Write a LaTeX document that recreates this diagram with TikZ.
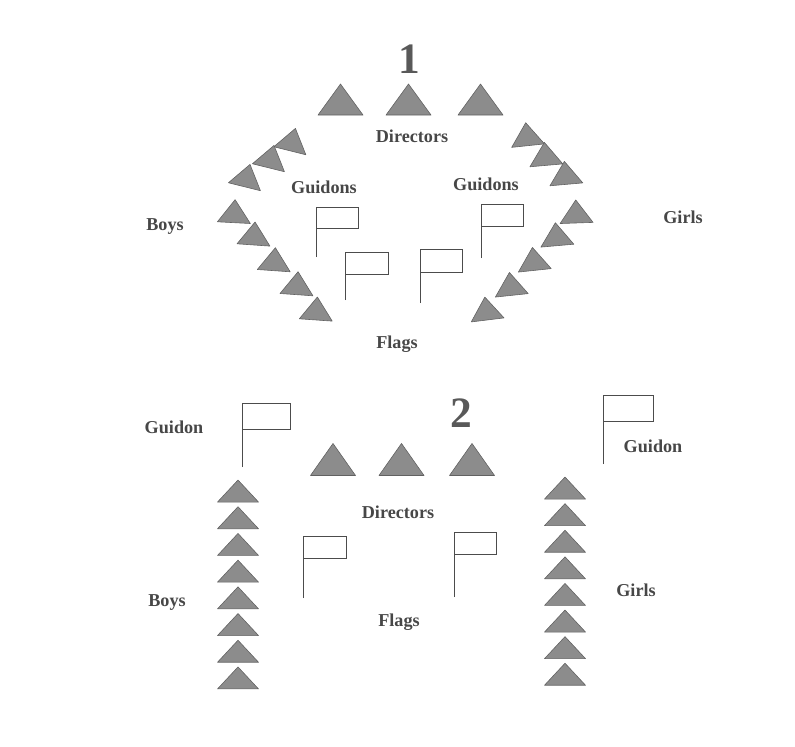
\documentclass[tikz,border=0pt]{standalone}
\usepackage{fontspec}
\setmainfont{Liberation Serif}

% one pennant: centre x, centre y, turn, base width, height
\newcommand{\pennant}[5]{%
  \filldraw[pennant, shift={({#1},{#2})}, rotate=#3]
    (0,{-2*#5/3}) -- ({#4/2},{#5/3}) -- ({-#4/2},{#5/3}) -- cycle;}
% one flag: pole x, pole top, pole foot, flag width, flag height
\newcommand{\flagpole}[5]{%
  \draw[flagline] (#1,#3) -- (#1,#2) -- ({#1+#4},#2) -- ({#1+#4},{#2+#5}) -- (#1,{#2+#5});}

\begin{document}
\begin{tikzpicture}[x=0.03cm, y=-0.03cm,
    pennant/.style={fill=black!45, draw=black!62, line width=0.5pt, line join=round},
    flagline/.style={black!70, line width=0.7pt},
    lbl/.style={text=black!72, font=\fontsize{15.5}{18}\selectfont\bfseries, anchor=base},
    numeral/.style={text=black!65, font=\fontsize{37}{40}\selectfont\bfseries, anchor=base}]
    \useasboundingbox (0,0) rectangle (795,746);

    % ---------- Formation 1 ----------
    \node[numeral] (one) at (409,73) {1};

    % Directors
    \foreach \x in {340.5,408.5,480.5}
        \pennant{\x}{104.7}{0}{45}{31};
    \node[lbl] (dirA) at (412,142) {Directors};

    % Boys, upper and lower arm
    \foreach \x/\y/\a in {291.7/143.3/-14, 270.3/160.3/-14, 246.3/179.3/-14,
                          234.3/215/-3, 254/237.3/-4, 274.3/263/-4, 297/287/-4, 316.3/312.3/-4}
        \pennant{\x}{\y}{\a}{33}{23};
    \node[lbl] (boysA) at (165,230) {Boys};

    % Girls, upper and lower arm
    \foreach \x/\y/\a in {527.3/138/6, 545.7/157.7/5, 565.7/176.7/5,
                          576.3/215.3/2, 556.7/238/5, 534/262.7/6, 511/287.7/6, 486.7/312.3/7}
        \pennant{\x}{\y}{\a}{33}{23};
    \node[lbl] (girlsA) at (683,223) {Girls};

    % Guidons
    \node[lbl] (guiAl) at (324,193) {Guidons};
    \node[lbl] (guiAr) at (486,190) {Guidons};
    \flagpole{316}{207}{257}{42}{21}
    \flagpole{481}{204}{258}{42}{22}

    % Flags
    \flagpole{345}{252}{300}{43}{22}
    \flagpole{420}{249}{303}{42}{23}
    \node[lbl] (flagsA) at (397,348) {Flags};

    % ---------- Formation 2 ----------
    \node[numeral] (two) at (461,427) {2};

    % Directors
    \foreach \x in {333,401.5,472}
        \pennant{\x}{464.8}{0}{45}{32};
    \node[lbl] (dirB) at (398,518) {Directors};

    % Boys and Girls columns
    \foreach \i in {0,...,7} {
        \pennant{238}{494.7+26.7*\i}{0}{41}{22}
        \pennant{565}{491.7+26.6*\i}{0}{41}{22}
    }
    \node[lbl] (boysB) at (167,606) {Boys};
    \node[lbl] (girlsB) at (636,596) {Girls};

    % Guidons
    \node[lbl] (guiBl) at (174,433) {Guidon};
    \node[lbl] (guiBr) at (653,452) {Guidon};
    \flagpole{242}{403}{467}{48}{26}
    \flagpole{603}{395}{464}{50}{26}

    % Flags
    \flagpole{303}{536}{598}{43}{22}
    \flagpole{454}{532}{597}{42}{22}
    \node[lbl] (flagsB) at (399,626) {Flags};
\end{tikzpicture}
\end{document}
